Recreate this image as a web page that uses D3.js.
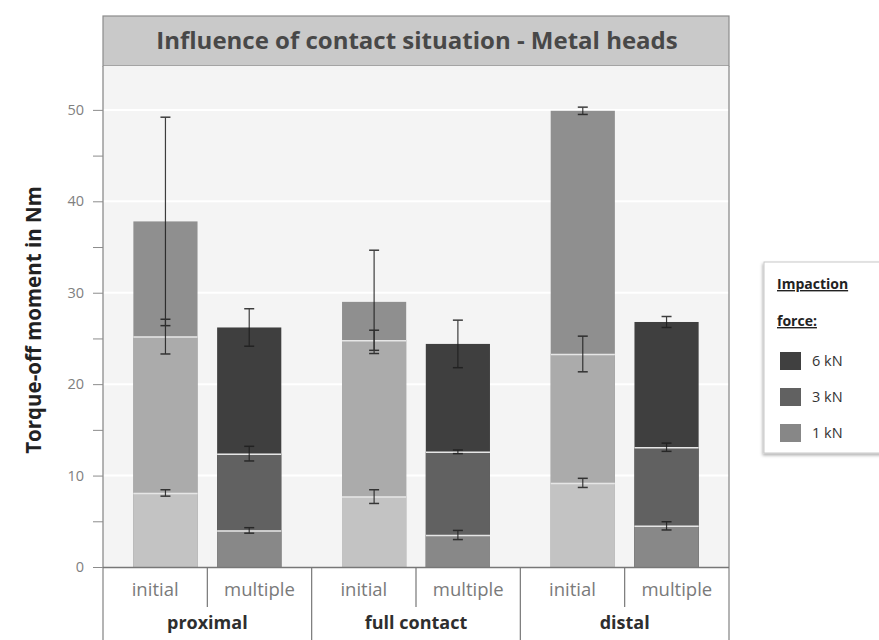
<!DOCTYPE html>
<html><head><meta charset="utf-8">
<script src="https://cdn.jsdelivr.net/npm/d3@7"></script>
<style>
html,body{margin:0;padding:0;background:#fff;}
svg{display:block;font-family:"Open Sans",sans-serif;}
</style></head>
<body>
<svg id="c" width="879" height="640"></svg>
<script>
// ---- data ----
const groups = ["proximal", "full contact", "distal"];
const subs = ["initial", "multiple"];
const forces = ["6 kN", "3 kN", "1 kN"];
const yTicks = [0, 10, 20, 30, 40, 50];
// values per bar: proximal-initial, proximal-multiple, full-initial, full-multiple, distal-initial, distal-multiple
const val6kN = [37.8, 26.2, 29.0, 24.4, 49.9, 26.8];
const val3kN = [25.2, 12.4, 24.8, 12.6, 23.3, 13.1];
const val1kN = [8.1, 4.0, 7.7, 3.5, 9.2, 4.5];
const err6kN = [11.4, 2.05, 5.65, 2.6, 0.4, 0.6];
const err3kN = [1.9, 0.8, 1.1, 0.2, 1.95, 0.45];
const err1kN = [0.35, 0.3, 0.75, 0.5, 0.5, 0.45];

const title = "Influence of contact situation - Metal heads";
const yLabel = "Torque-off moment in Nm";

// colours
const colInitial = {"6 kN": "#8f8f8f", "3 kN": "#ababab", "1 kN": "#c3c3c3"};
const colMultiple = {"6 kN": "#3f3f3f", "3 kN": "#616161", "1 kN": "#888888"};
const colLegend = {"6 kN": "#404040", "3 kN": "#616161", "1 kN": "#878787"};

const svg = d3.select("#c");
const L = 103, R = 729, T = 66, B = 567;

const y = d3.scaleLinear().domain([0, 54.8]).range([B, T]);
const x0 = d3.scaleBand().domain(groups).range([L, R]);
const xs = d3.scaleBand().domain(subs).range([0, x0.bandwidth()]);
const xb = d3.scaleBand().domain(subs).range([0, x0.bandwidth()]).paddingInner(0.234).paddingOuter(0.3625);

// bars table
const bars = [];
groups.forEach((g, gi) => subs.forEach((s, si) => {
  const i = gi * 2 + si;
  bars.push({g, s, i, segs: [
    {f: "6 kN", v: val6kN[i], e: err6kN[i]},
    {f: "3 kN", v: val3kN[i], e: err3kN[i]},
    {f: "1 kN", v: val1kN[i], e: err1kN[i]}
  ]});
}));

// title band
svg.append("rect").attr("x", L).attr("y", 16).attr("width", R - L).attr("height", T - 16)
  .attr("fill", "#c9c9c9").attr("stroke", "#8c8c8c").attr("stroke-width", 1.2);
svg.append("text").attr("x", (L + R) / 2 + 1).attr("y", 48.5).attr("text-anchor", "middle")
  .attr("font-size", 24).attr("font-weight", "bold").attr("fill", "#484848").text(title);

// plot background
svg.append("rect").attr("x", L).attr("y", T).attr("width", R - L).attr("height", B - T).attr("fill", "#f4f4f4");
// gridlines
svg.append("g").selectAll("line").data(yTicks.filter(d => d > 0)).join("line")
  .attr("x1", L).attr("x2", R).attr("y1", d => y(d)).attr("y2", d => y(d))
  .attr("stroke", "#ffffff").attr("stroke-width", 2);

// bars
const bg = svg.append("g");
bars.forEach(b => {
  const bx = x0(b.g) + xb(b.s);
  const cols = b.s === "initial" ? colInitial : colMultiple;
  b.segs.forEach((sg, k) => {
    bg.append("rect").attr("x", bx).attr("y", y(sg.v)).attr("width", xb.bandwidth())
      .attr("height", y(0) - y(sg.v)).attr("fill", cols[sg.f]);
    if (k > 0) {
      bg.append("line").attr("x1", bx).attr("x2", bx + xb.bandwidth())
        .attr("y1", y(sg.v) + 0.5).attr("y2", y(sg.v) + 0.5)
        .attr("stroke", "#e6e6e6").attr("stroke-width", 1.5);
    }
  });
});

// error bars
const eg = svg.append("g").attr("stroke", "#1e1e1e").attr("stroke-width", 1.2).attr("opacity", 0.85);
bars.forEach(b => {
  const cx = x0(b.g) + xb(b.s) + xb.bandwidth() / 2;
  b.segs.forEach(sg => {
    eg.append("line").attr("x1", cx).attr("x2", cx).attr("y1", y(sg.v + sg.e)).attr("y2", y(sg.v - sg.e));
    [sg.v + sg.e, sg.v - sg.e].forEach(v => {
      eg.append("line").attr("x1", cx - 5).attr("x2", cx + 5).attr("y1", y(v)).attr("y2", y(v)).attr("stroke-width", 1.5);
    });
  });
});

// frame: right border
svg.append("line").attr("x1", R).attr("x2", R).attr("y1", T).attr("y2", 640).attr("stroke", "#8c8c8c").attr("stroke-width", 1.3);

// y axis
const yAxis = d3.axisLeft(y).tickValues(d3.range(0, 55, 5)).tickSize(10)
  .tickFormat(d => d % 10 === 0 ? d : "");
const ya = svg.append("g").attr("transform", `translate(${L},0)`).call(yAxis);
ya.select(".domain").remove();
ya.selectAll(".tick line").attr("stroke", "#8c8c8c");
ya.selectAll(".tick text").attr("font-size", 14.5).attr("fill", "#808080").attr("x", -19)
  .attr("font-family", "Open Sans, sans-serif");
svg.append("line").attr("x1", L).attr("x2", L).attr("y1", T).attr("y2", 640).attr("stroke", "#8c8c8c").attr("stroke-width", 1.3);

// y label
svg.append("text").attr("transform", "translate(34,320) rotate(-90)").attr("text-anchor", "middle")
  .attr("dy", "0.35em")
  .attr("font-size", 20.5).attr("font-weight", "bold").attr("fill", "#222").text(yLabel);

// bottom table
svg.append("line").attr("x1", L).attr("x2", R).attr("y1", B + 0.5).attr("y2", B + 0.5).attr("stroke", "#777").attr("stroke-width", 1.3);
groups.forEach((g, gi) => {
  const gx = x0(g);
  if (gi > 0) svg.append("line").attr("x1", gx).attr("x2", gx).attr("y1", B).attr("y2", 640).attr("stroke", "#777").attr("stroke-width", 1.2);
  svg.append("line").attr("x1", gx + xs("multiple")).attr("x2", gx + xs("multiple")).attr("y1", B).attr("y2", 607)
    .attr("stroke", "#777").attr("stroke-width", 1.2);
  subs.forEach(s => {
    svg.append("text").attr("x", gx + xs(s) + xs.bandwidth() / 2).attr("y", 596).attr("text-anchor", "middle")
      .attr("font-size", 18.5).attr("fill", "#7a7a7a").text(s);
  });
  svg.append("text").attr("x", gx + x0.bandwidth() / 2).attr("y", 629).attr("text-anchor", "middle")
    .attr("font-size", 18).attr("font-weight", "bold").attr("fill", "#2e2e2e").text(g);
});

// legend
const lg = svg.append("g");
const defs = svg.append("defs");
const f = defs.append("filter").attr("id", "sh").attr("x", "-20%").attr("y", "-20%").attr("width", "140%").attr("height", "140%");
f.append("feDropShadow").attr("dx", -1).attr("dy", 2).attr("stdDeviation", 1.5).attr("flood-color", "#000").attr("flood-opacity", 0.3);
lg.append("rect").attr("x", 764).attr("y", 262).attr("width", 130).attr("height", 191)
  .attr("fill", "#fff").attr("stroke", "#c8c8c8").attr("filter", "url(#sh)");
["Impaction", "force:"].forEach((t, i) => {
  lg.append("text").attr("x", 777).attr("y", 289 + i * 37).attr("font-size", 14).attr("font-weight", "bold")
    .attr("fill", "#222").attr("text-decoration", "underline").text(t);
});
forces.forEach((fc, i) => {
  const cy = 361 + i * 36;
  lg.append("rect").attr("x", 780).attr("y", cy - 9).attr("width", 21).attr("height", 18).attr("fill", colLegend[fc]);
  lg.append("text").attr("x", 812).attr("y", cy + 5).attr("font-size", 14.5).attr("fill", "#333").text(fc);
});
</script>
</body></html>
